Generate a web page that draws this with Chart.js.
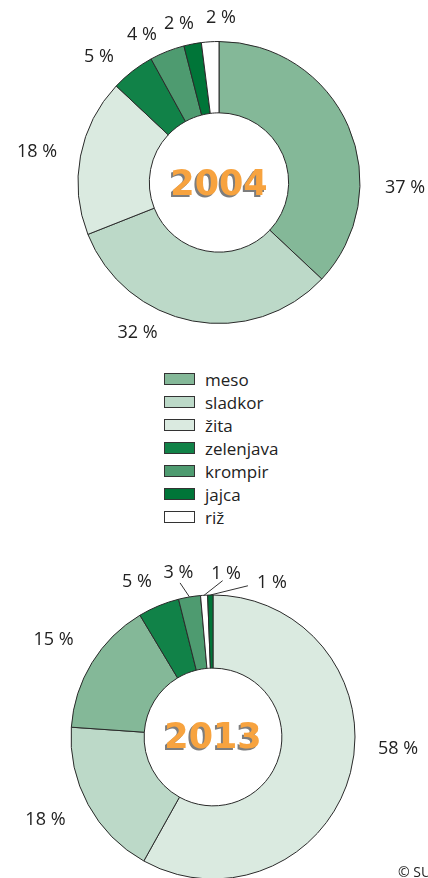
<!DOCTYPE html>
<html><head><meta charset="utf-8">
<script src="https://cdn.jsdelivr.net/npm/chart.js@4.4.1/dist/chart.umd.min.js"></script>
<style>
html,body{margin:0;padding:0;background:#fff;overflow:hidden;width:428px;height:878px;}
#wrap{position:relative;width:428px;height:878px;overflow:hidden;}
#c1{position:absolute;left:0;top:0;}
#c2{position:absolute;left:0;top:560px;}
#legend{position:absolute;left:164px;top:367.5px;margin:0;padding:0;list-style:none;font-family:'Open Sans',sans-serif;font-size:17px;color:#222;}
#legend li{display:flex;align-items:center;height:23px;}
#legend .box{width:29px;height:10px;border:1px solid #333;margin-right:10px;}
#copy{position:absolute;left:398px;top:862px;font:14px 'Open Sans',sans-serif;color:#222;white-space:nowrap;}
</style></head>
<body><div id="wrap">
<canvas id="c1" width="428" height="345"></canvas>
<ul id="legend"></ul>
<canvas id="c2" width="428" height="320"></canvas>
<div id="copy">© SURS</div>
</div>
<script>
// ---- data ----
const categories2004 = ['meso','sladkor','žita','zelenjava','krompir','jajca','riž'];
const values2004 = [37, 32, 18, 5, 4, 2, 2];
const categories2013 = ['žita','sladkor','meso','zelenjava','krompir','riž','jajca'];
const values2013 = [58.1, 18.0, 15.3, 4.7, 2.5, 0.8, 0.6];
const year1 = '2004';
const year2 = '2013';

// ---- style ----
const palette = {'meso':'#84b898','sladkor':'#bcd9c8','žita':'#daeae0','zelenjava':'#118248','krompir':'#4e9b70','jajca':'#007538','riž':'#ffffff'};
// label placement relative to donut centre, in units of the outer radius
const labelPos2004 = [[1.319,0.040],[-0.578,1.066],[-1.291,-0.216],[-0.851,-0.889],[-0.546,-1.045],[-0.284,-1.123],[0.014,-1.166]];
const labelPos2013 = [[1.303,0.085],[-1.180,0.585],[-1.123,-0.683],[-0.535,-1.092],[-0.243,-1.155],[0.092,-1.148],[0.415,-1.085]];
const leaders2013 = [null,null,null,null,[-0.232,-1.085],[0.068,-1.101],[0.246,-1.065]];

function makeDecor(pos, leaders, year, yearDy){
  return {
    id:'decor',
    afterDatasetsDraw(chart){
      const ctx = chart.ctx;
      const meta = chart.getDatasetMeta(0);
      const a0 = meta.data[0];
      const cx = a0.x, cy = a0.y, R = a0.outerRadius;
      const data = chart.data.datasets[0].data;
      ctx.save();
      ctx.font = '18px "Open Sans"';
      ctx.fillStyle = '#222';
      ctx.textAlign = 'center';
      ctx.textBaseline = 'middle';
      meta.data.forEach((arc, i) => {
        const p = pos[i];
        ctx.fillText(Math.round(data[i]) + ' %', cx + p[0]*R, cy + p[1]*R);
        const l = leaders && leaders[i];
        if (l) {
          const a = (arc.startAngle + arc.endAngle) / 2;
          ctx.beginPath();
          ctx.strokeStyle = '#333';
          ctx.lineWidth = 1;
          ctx.moveTo(cx + l[0]*R, cy + l[1]*R);
          ctx.lineTo(cx + R*Math.cos(a), cy + R*Math.sin(a));
          ctx.stroke();
        }
      });
      ctx.font = 'bold 35px "DejaVu Sans"';
      ctx.textBaseline = 'alphabetic';
      ctx.fillStyle = '#7d7d7d';
      ctx.fillText(year, cx - 2, cy + yearDy + 2);
      ctx.fillStyle = '#f7a33f';
      ctx.fillText(year, cx, cy + yearDy);
      ctx.restore();
    }
  };
}

function donut(el, cats, vals, pad, cut, decor){
  return new Chart(document.getElementById(el), {
    type:'doughnut',
    data:{labels:cats, datasets:[{data:vals, backgroundColor:cats.map(c=>palette[c]), borderColor:'#2a2a2a', borderWidth:1}]},
    options:{responsive:false, animation:false, events:[], cutout:cut,
      layout:{padding:pad},
      plugins:{legend:{display:false}, tooltip:{enabled:false}}},
    plugins:[decor]
  });
}

const ch1 = donut('c1', categories2004, values2004, {left:77.5,right:67.5,top:41,bottom:21}, '49.4%', makeDecor(labelPos2004, null, year1, 12.5));
const ch2 = donut('c2', categories2013, values2013, {left:70.5,right:72.5,top:34.5,bottom:0.5}, '48.5%', makeDecor(labelPos2013, leaders2013, year2, 11));

// HTML legend built from chart 1's legend items
const items = Chart.overrides.doughnut.plugins.legend.labels.generateLabels(ch1);
const ul = document.getElementById('legend');
items.forEach(it => {
  const li = document.createElement('li');
  const b = document.createElement('span');
  b.className = 'box';
  b.style.background = it.fillStyle;
  li.appendChild(b);
  li.appendChild(document.createTextNode(it.text));
  ul.appendChild(li);
});
</script>
</body></html>
